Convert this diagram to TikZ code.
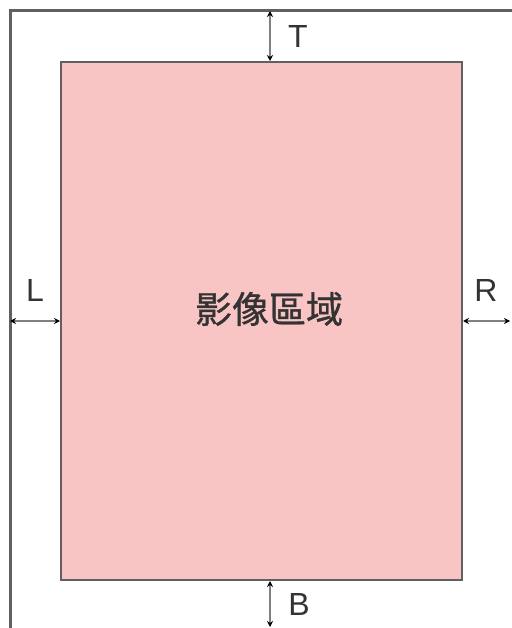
\documentclass[tikz,border=0pt]{standalone}
\usepackage{fontspec}
\setmainfont{Liberation Sans}
\newfontfamily\cjk[FakeBold=1]{Noto Sans CJK TC}
\usetikzlibrary{arrows.meta}
\definecolor{areapink}{HTML}{F8C4C4}
\definecolor{framegray}{HTML}{606060}
\definecolor{arrowgray}{HTML}{808080}
\definecolor{textgray}{HTML}{333333}

\begin{document}
\begin{tikzpicture}[x=1pt,y=-1pt,>={Stealth[length=6pt,width=6pt,black]}]
\useasboundingbox (0,0) rectangle (511,628);
\tikzset{
  imgbox/.style={draw=framegray, line width=2pt, fill=areapink, inner sep=0pt},
  gap/.style={<->, draw=arrowgray, line width=1.5pt},
  marginlabel/.style={text=textgray, font=\fontsize{32}{36}\selectfont, inner sep=0pt}
}
% outer page frame
\coordinate (pagetl) at (10,11);
\draw[framegray, line width=3pt] (10,640) -- (pagetl) -- (520,11);
% image area
\node[imgbox, minimum width=401pt, minimum height=518pt] (img) at (261.5,321) {};
\node[text=textgray, font=\cjk\fontsize{37}{42}\selectfont] (title) at (269,309) {影像區域};
% free ends on the frame and page edge
\coordinate (topend) at (270,11);
\coordinate (botend) at (270,627);
\coordinate (leftend) at (10,321);
\coordinate (rightend) at (510,321);
\draw[gap] (img.north -| topend) -- (topend);
\draw[gap] (img.south -| botend) -- (botend);
\draw[gap] (img.west |- leftend) -- (leftend);
\draw[gap] (img.east |- rightend) -- (rightend);
% margin labels
\node[marginlabel] (tlabel) at (298,36) {T};
\node[marginlabel] (blabel) at (299,604) {B};
\node[marginlabel] (llabel) at (35,290) {L};
\node[marginlabel] (rlabel) at (486,290) {R};
\end{tikzpicture}
\end{document}
